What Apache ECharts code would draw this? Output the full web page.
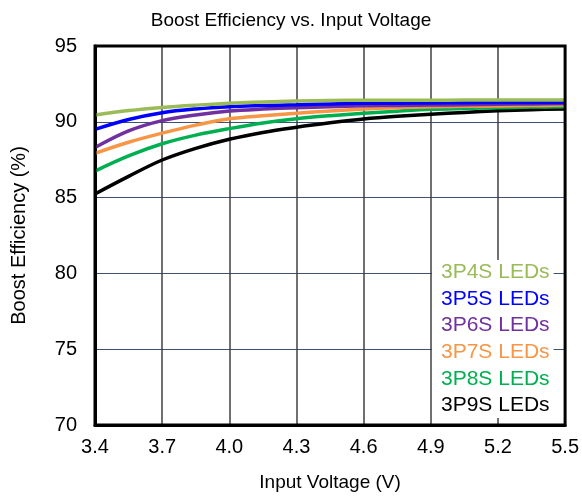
<!DOCTYPE html>
<html>
<head>
<meta charset="utf-8">
<script src="https://cdn.jsdelivr.net/npm/echarts@6/dist/echarts.min.js"></script>
<style>
html,body{margin:0;padding:0;background:#fff;}
#chart{width:582px;height:497px;}
</style>
</head>
<body>
<div id="chart"></div>
<script>
const inputVoltage = [3.4, 3.55, 3.7, 3.85, 4.0, 4.15, 4.3, 4.45, 4.6, 4.75, 4.9, 5.05, 5.2, 5.35, 5.5];
const eff3P4S = [90.45, 90.74, 90.95, 91.10, 91.22, 91.31, 91.37, 91.40, 91.42, 91.42, 91.42, 91.43, 91.43, 91.43, 91.43];
const eff3P5S = [89.50, 90.15, 90.60, 90.85, 91.00, 91.07, 91.12, 91.18, 91.22, 91.23, 91.24, 91.26, 91.27, 91.28, 91.28];
const eff3P6S = [88.30, 89.40, 90.08, 90.45, 90.71, 90.84, 90.93, 91.00, 91.06, 91.08, 91.10, 91.13, 91.16, 91.18, 91.20];
const eff3P7S = [87.92, 88.65, 89.25, 89.78, 90.20, 90.40, 90.56, 90.72, 90.84, 90.93, 91.00, 91.02, 91.04, 91.07, 91.10];
const eff3P8S = [86.75, 87.75, 88.55, 89.12, 89.55, 89.92, 90.20, 90.40, 90.56, 90.70, 90.82, 90.88, 90.93, 90.97, 91.00];
const eff3P9S = [85.24, 86.40, 87.48, 88.25, 88.85, 89.30, 89.64, 89.93, 90.18, 90.36, 90.50, 90.62, 90.73, 90.80, 90.85];
const seriesNames = ['3P4S LEDs', '3P5S LEDs', '3P6S LEDs', '3P7S LEDs', '3P8S LEDs', '3P9S LEDs'];
const seriesValues = [eff3P4S, eff3P5S, eff3P6S, eff3P7S, eff3P8S, eff3P9S];
const colors = ['#9BBB59', '#0000FF', '#7030A0', '#F79646', '#00B050', '#000000'];

const font = 'Liberation Sans, Arial, sans-serif';
const chart = echarts.init(document.getElementById('chart'), null, {renderer: 'canvas'});

const series = seriesNames.map((name, i) => ({
  name: name,
  type: 'line',
  data: inputVoltage.map((x, j) => [x, seriesValues[i][j]]),
  smooth: 0.35,
  showSymbol: false,
  symbol: 'none',
  lineStyle: {color: colors[i], width: 3.5},
  itemStyle: {color: colors[i]},
  z: 3
})).reverse();

chart.setOption({
  animation: false,
  backgroundColor: '#fff',
  title: {
    text: 'Boost Efficiency vs. Input Voltage',
    left: 'center',
    top: 6,
    textStyle: {fontFamily: font, fontSize: 19, fontWeight: 'normal', color: '#000'}
  },
  grid: {left: 95, right: 14, top: 46, bottom: 72, show: true, borderColor: '#000', borderWidth: 3, backgroundColor: 'transparent', z: 4},
  legend: {
    orient: 'vertical',
    left: 432,
    top: 260,
    icon: 'none',
    itemWidth: 0,
    itemHeight: 20,
    itemGap: 5.6,
    backgroundColor: '#fff',
    padding: [2, 4, 2, 4],
    selectedMode: false,
    textStyle: {fontFamily: font, fontSize: 21},
    data: seriesNames.map((n, i) => ({name: n, textStyle: {color: colors[i], fontFamily: font, fontSize: 21}}))
  },
  xAxis: {
    type: 'value',
    min: 3.4,
    max: 5.5,
    interval: 0.3,
    name: 'Input Voltage (V)',
    nameLocation: 'middle',
    nameGap: 48,
    nameTextStyle: {fontFamily: font, fontSize: 19, color: '#000'},
    axisLine: {show: true, lineStyle: {color: '#000', width: 3}},
    axisTick: {show: false},
    axisLabel: {fontFamily: font, fontSize: 20, color: '#000', margin: 12, formatter: v => v.toFixed(1)},
    splitLine: {show: true, lineStyle: {color: '#404040', width: 1.5}}
  },
  yAxis: {
    type: 'value',
    min: 70,
    max: 95,
    interval: 5,
    name: 'Boost Efficiency (%)',
    nameLocation: 'middle',
    nameGap: 66,
    nameTextStyle: {fontFamily: font, fontSize: 20, color: '#000'},
    axisLine: {show: true, lineStyle: {color: '#000', width: 3}},
    axisTick: {show: false},
    axisLabel: {fontFamily: font, fontSize: 20, color: '#000', margin: 18},
    splitLine: {show: true, lineStyle: {color: '#3B5272', width: 1}}
  },
  series: series
});
</script>
</body>
</html>
